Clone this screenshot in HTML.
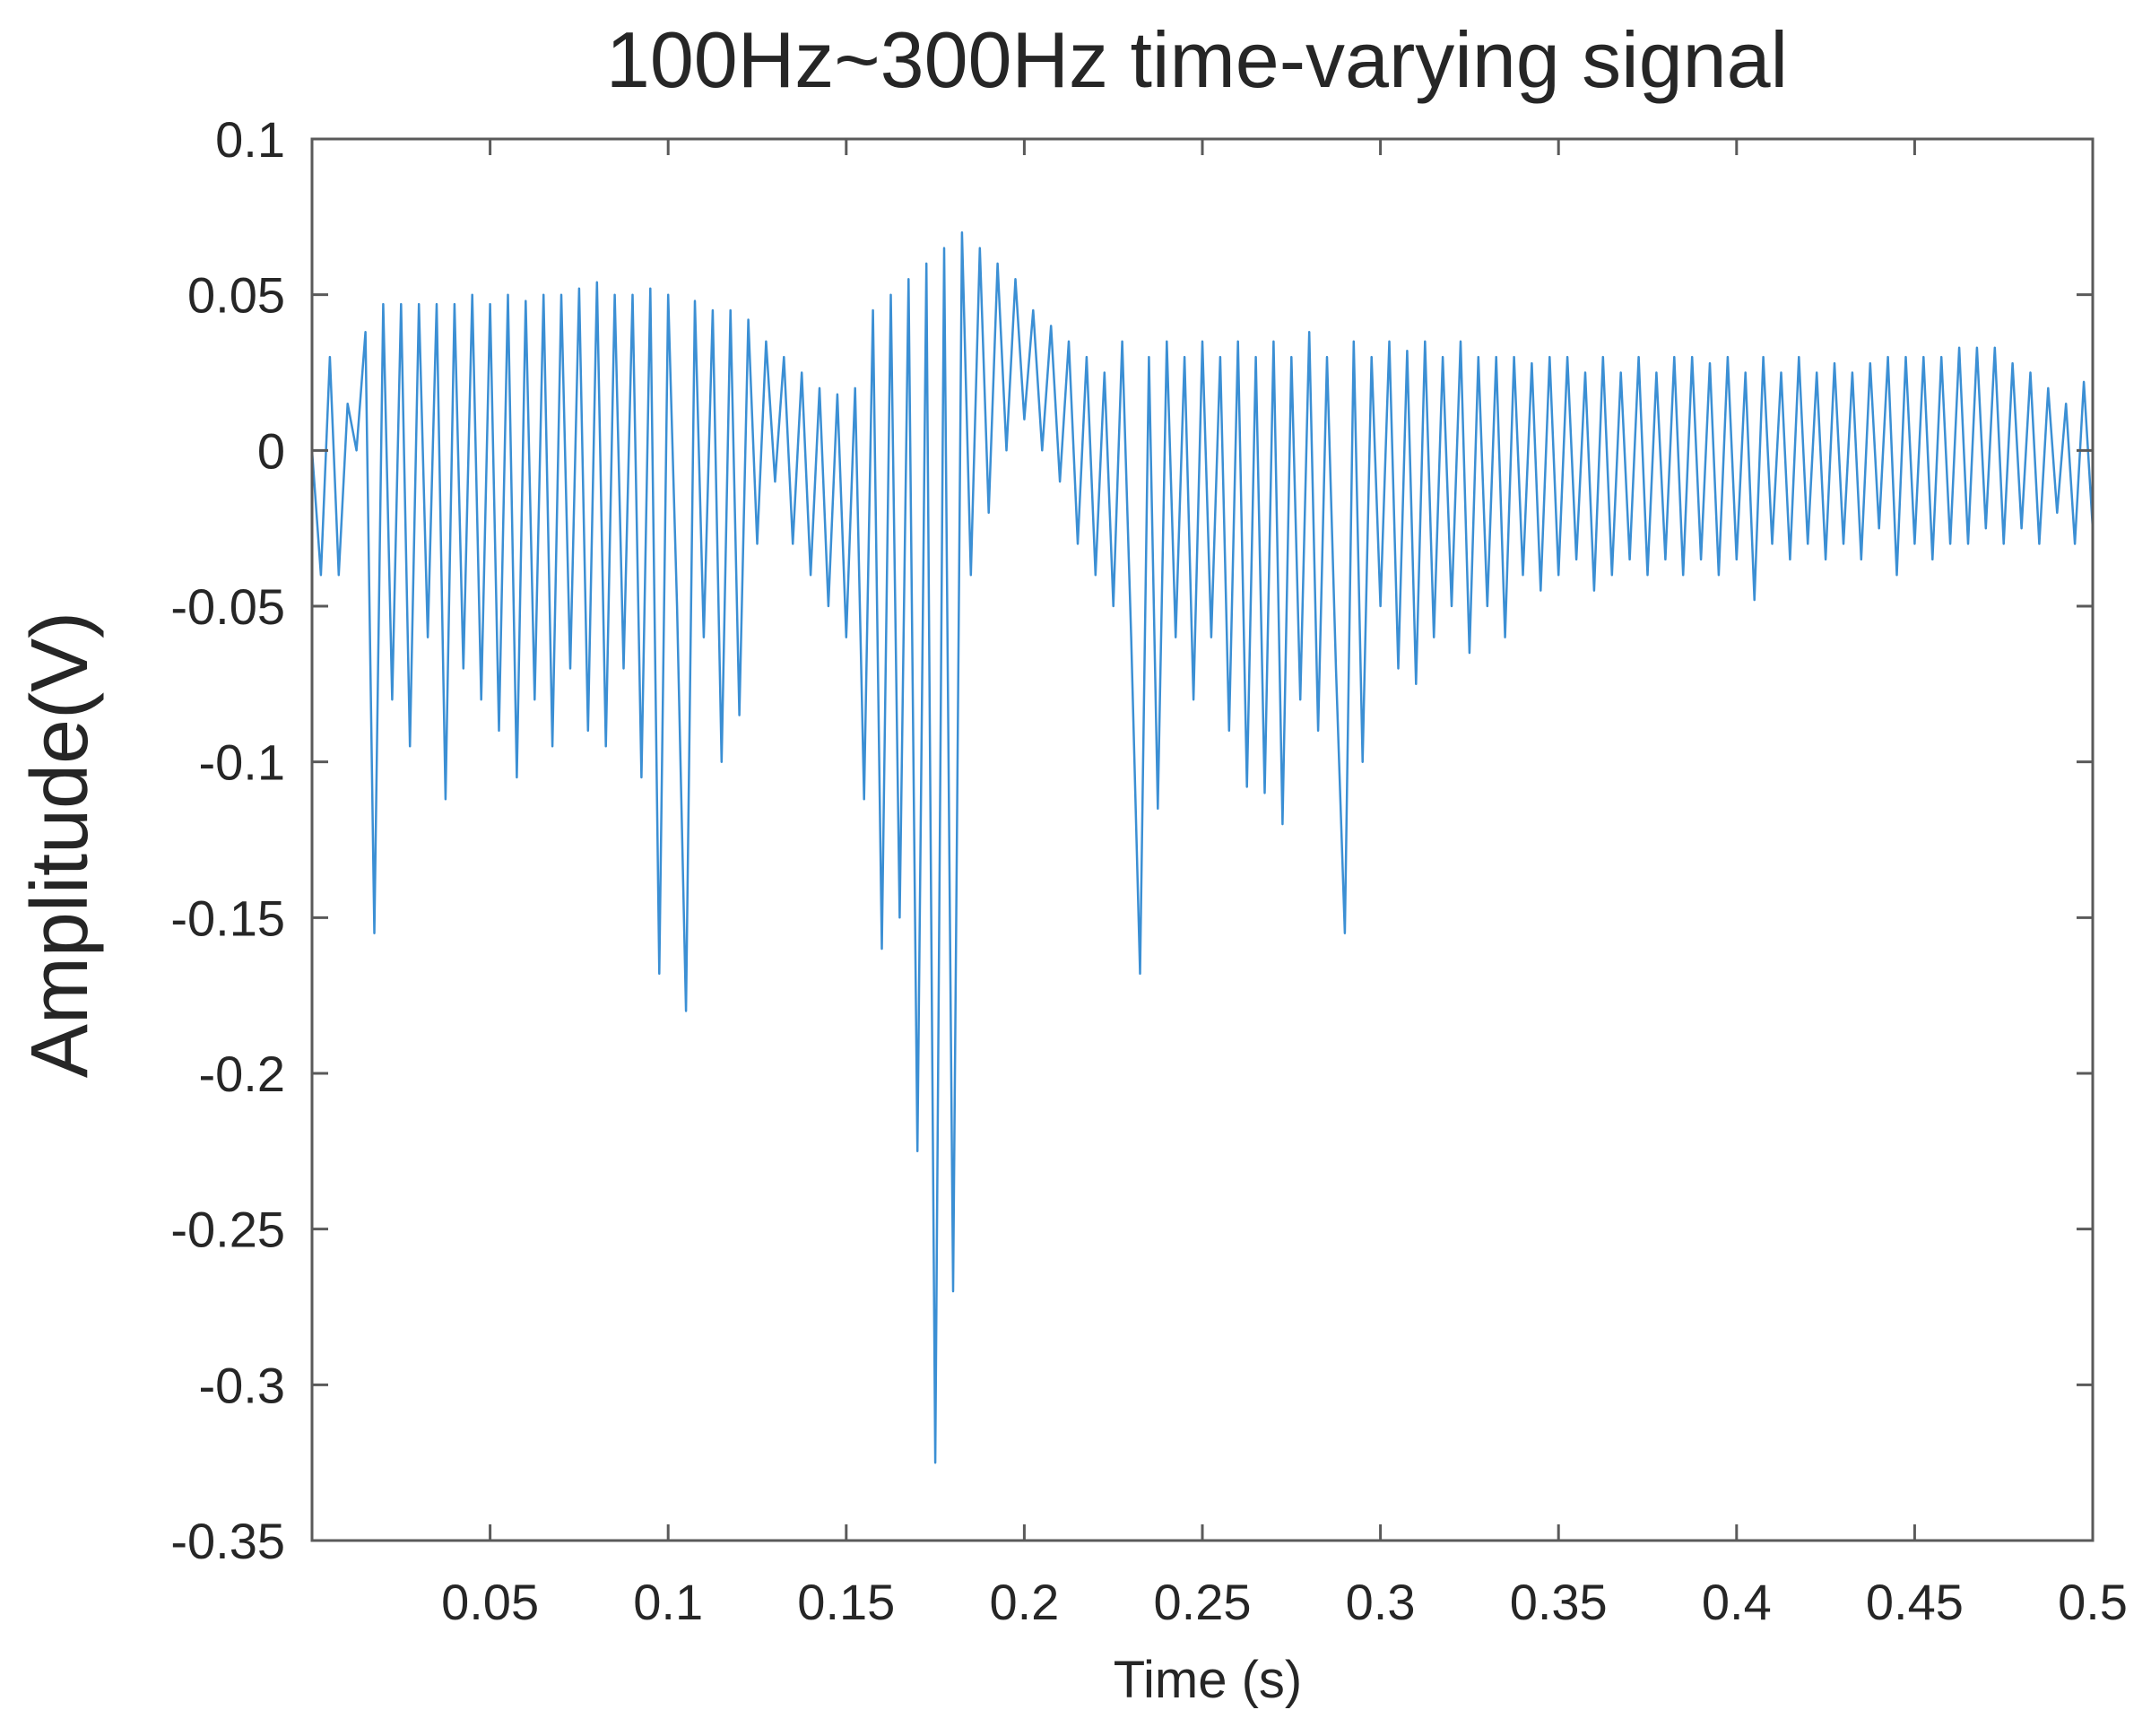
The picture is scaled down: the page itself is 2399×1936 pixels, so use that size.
<!DOCTYPE html>
<html><head><meta charset="utf-8"><style>
html,body{margin:0;padding:0;background:#fff;}
svg{display:block;}
text{font-family:"Liberation Sans",sans-serif;fill:#262626;}
</style></head><body>
<svg id="chart" width="2399" height="1936" viewBox="0 0 2399 1936" xmlns="http://www.w3.org/2000/svg">
<text x="1335" y="97" font-size="88" text-anchor="middle" fill="#000">100Hz~300Hz time-varying signal</text>
<text transform="translate(97,942) rotate(-90)" font-size="90" text-anchor="middle" fill="#000">Amplitude(V)</text>
<text x="1347" y="1893" font-size="58" text-anchor="middle">Time (s)</text>
<g id="plot"></g>
</svg>
<script>
const xTicks = [0.05,0.1,0.15,0.2,0.25,0.3,0.35,0.4,0.45,0.5];
const xTickLabels = ["0.05","0.1","0.15","0.2","0.25","0.3","0.35","0.4","0.45","0.5"];
const yTicks = [0.1,0.05,0,-0.05,-0.1,-0.15,-0.2,-0.25,-0.3,-0.35];
const yTickLabels = ["0.1","0.05","0","-0.05","-0.1","-0.15","-0.2","-0.25","-0.3","-0.35"];
const timeStep = 0.0025;
const amplitude = [
0.0,-0.04,0.03,-0.04,0.015,0.0,0.038,-0.155,0.047,-0.08,
0.047,-0.095,0.047,-0.06,0.047,-0.112,0.047,-0.07,0.05,-0.08,
0.047,-0.09,0.05,-0.105,0.048,-0.08,0.05,-0.095,0.05,-0.07,
0.052,-0.09,0.054,-0.095,0.05,-0.07,0.05,-0.105,0.052,-0.168,
0.05,-0.05,-0.18,0.048,-0.06,0.045,-0.1,0.045,-0.085,0.042,
-0.03,0.035,-0.01,0.03,-0.03,0.025,-0.04,0.02,-0.05,0.018,
-0.06,0.02,-0.112,0.045,-0.16,0.05,-0.15,0.055,-0.225,0.06,
-0.325,0.065,-0.27,0.07,-0.04,0.065,-0.02,0.06,0.0,0.055,
0.01,0.045,0.0,0.04,-0.01,0.035,-0.03,0.03,-0.04,0.025,
-0.05,0.035,-0.06,-0.168,0.03,-0.115,0.035,-0.06,0.03,-0.08,
0.035,-0.06,0.03,-0.09,0.035,-0.108,0.03,-0.11,0.035,-0.12,
0.03,-0.08,0.038,-0.09,0.03,-0.07,-0.155,0.035,-0.1,0.03,
-0.05,0.035,-0.07,0.032,-0.075,0.035,-0.06,0.03,-0.05,0.035,
-0.065,0.03,-0.05,0.03,-0.06,0.03,-0.04,0.028,-0.045,0.03,
-0.04,0.03,-0.035,0.025,-0.045,0.03,-0.04,0.025,-0.035,0.03,
-0.04,0.025,-0.035,0.03,-0.04,0.03,-0.035,0.028,-0.04,0.03,
-0.035,0.025,-0.048,0.03,-0.03,0.025,-0.035,0.03,-0.03,0.025,
-0.035,0.028,-0.03,0.025,-0.035,0.028,-0.025,0.03,-0.04,0.03,
-0.03,0.03,-0.035,0.03,-0.03,0.033,-0.03,0.033,-0.025,0.033,
-0.03,0.028,-0.025,0.025,-0.03,0.02,-0.02,0.015,-0.03,0.022,
-0.025
];
const L=348,R=2334,T=155,B=1718;
const xMin=0,xMax=0.5,yMin=-0.35,yMax=0.1;
const xs=v=>L+(v-xMin)/(xMax-xMin)*(R-L);
const ys=v=>B-(v-yMin)/(yMax-yMin)*(B-T);
const NS="http://www.w3.org/2000/svg";
const g=document.getElementById('plot');
function mk(tag,attrs){const e=document.createElementNS(NS,tag);for(const k in attrs)e.setAttribute(k,attrs[k]);g.appendChild(e);return e;}
let d="";
amplitude.forEach((v,i)=>{d+=(i?"L":"M")+xs(i*timeStep).toFixed(1)+","+ys(v).toFixed(1);});
const line=mk('path',{d:d,fill:"none",stroke:"#3b8fd4","stroke-width":"2.5","stroke-linejoin":"round"});


const box=mk('rect',{x:L,y:T,width:R-L,height:B-T,fill:"none",stroke:"#5a5a5a","stroke-width":"3"});


xTicks.forEach((v,i)=>{
  const x=xs(v);
  const t1=mk('line',{x1:x,x2:x,y1:B,y2:B-18,stroke:"#5a5a5a","stroke-width":"3"});
  
  
  const t2=mk('line',{x1:x,x2:x,y1:T,y2:T+18,stroke:"#5a5a5a","stroke-width":"3"});
  
  
  const lb=mk('text',{x:x,y:B+88,"font-size":"56","text-anchor":"middle"});
  lb.textContent=xTickLabels[i];
  
  
});
yTicks.forEach((v,i)=>{
  const y=ys(v);
  const t1=mk('line',{x1:L,x2:L+18,y1:y,y2:y,stroke:"#5a5a5a","stroke-width":"3"});
  
  
  const t2=mk('line',{x1:R,x2:R-18,y1:y,y2:y,stroke:"#5a5a5a","stroke-width":"3"});
  
  
  const lb=mk('text',{x:L-30,y:y+20,"font-size":"56","text-anchor":"end"});
  lb.textContent=yTickLabels[i];
  
  
});
</script>
</body></html>
